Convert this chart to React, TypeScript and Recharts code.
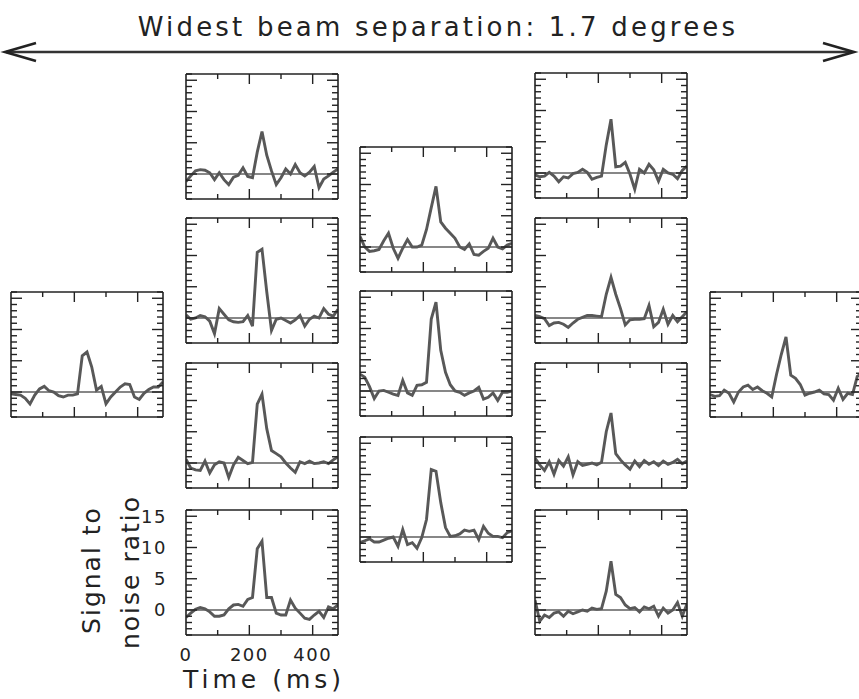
import React from "react";
import { LineChart, Line, XAxis, YAxis, ReferenceLine } from "recharts";

// sample times (ms)
const TIMES = [
  0, 15, 30, 45, 60, 75, 90, 105, 120, 135, 150, 165, 180, 195, 210, 225, 240,
  255, 270, 285, 300, 315, 330, 345, 360, 375, 390, 405, 420, 435, 450, 465, 480,
];

// signal to noise per beam
const BEAM_W = [-0.3, -0.4, -0.5, -1.0, -1.9, -0.5, 0.5, 0.9, 0.2, 0.0, -0.6, -0.8, -0.5, -0.5, -0.3, 5.8, 6.4, 4.0, 0.3, 0.9, -1.9, -0.8, 0.0, 0.8, 1.3, 1.2, -0.8, -1.2, -0.2, 0.4, 0.8, 0.8, 1.6];
const BEAM_NW1 = [-1.2, -0.3, 0.5, 0.7, 0.6, 0.2, -0.9, 0.2, -0.9, -1.7, -0.5, -0.2, 1.0, -0.4, -0.6, 3.5, 6.8, 3.0, 0.5, -1.7, -0.6, 0.8, 0.0, 1.5, 0.2, -0.3, 0.3, 1.2, -2.2, -0.8, -0.3, 0.3, 0.8];
const BEAM_NW2 = [0.5, -0.2, 0.0, 0.4, 0.2, -0.5, -2.5, 1.5, 0.6, -0.3, -0.6, -0.7, -0.6, 0.4, -1.3, 10.5, 11.0, 4.2, -2.0, -0.2, 0.0, -0.4, -0.8, -0.3, 0.4, -1.3, -0.2, 0.3, 0.0, 1.5, 0.6, 0.3, 1.4];
const BEAM_SW1 = [0.6, -0.8, -1.1, -1.2, 0.3, -1.6, -0.3, 0.2, 0.0, -2.3, -0.3, 0.9, 0.4, -0.1, 0.1, 9.4, 11.0, 5.5, 2.0, 1.5, 1.0, 0.0, -0.8, -1.5, 0.2, -0.1, 0.3, -0.1, 0.0, 0.2, -0.1, 0.5, 1.0];
const BEAM_SW2 = [-1.2, -0.5, 0.1, 0.4, 0.2, -0.3, -1.0, -1.0, -0.8, 0.2, 0.8, 0.9, 0.6, 1.7, 2.0, 9.8, 11.0, 2.0, 2.0, -0.5, -0.8, -0.8, 1.6, 0.3, -0.5, -1.3, -1.5, -0.8, -0.2, -1.2, 0.5, 0.2, 0.8];
const BEAM_N = [1.7, 0.0, -0.7, -0.6, -0.4, 1.0, 2.2, -0.2, -1.8, -0.2, 1.2, 0.0, 0.0, 0.3, 2.8, 6.3, 9.7, 4.0, 3.0, 2.2, 1.4, 0.0, -0.4, 0.5, -1.2, -1.3, -0.7, -0.2, 1.4, 0.0, -0.3, 0.3, 0.6];
const BEAM_C = [2.7, 2.2, 0.7, -1.2, 0.0, 0.1, -0.2, -0.5, -0.7, 1.7, -0.3, -0.7, 0.9, 1.0, 1.4, 11.5, 14.2, 6.5, 3.0, 1.0, 0.0, -0.2, -0.7, -0.3, 0.0, 0.6, -1.3, -1.0, -0.3, -1.5, -0.2, -0.2, 0.0];
const BEAM_S = [-0.9, -0.6, -0.3, -0.8, -0.8, -0.5, -0.2, 0.0, -1.5, 1.2, -1.2, -0.9, -1.8, -0.1, 2.8, 10.8, 10.5, 5.5, 1.5, 0.1, 0.2, 0.5, 1.1, 0.9, 1.1, -0.4, 1.7, 0.6, 0.1, 0.1, -0.1, 0.7, 1.0];
const BEAM_NE1 = [-0.3, -0.6, -0.5, 0.1, -0.5, -1.4, -0.6, -0.8, -0.1, 0.1, 0.6, 0.1, -1.0, -0.7, -0.5, 4.5, 8.6, 1.0, 1.1, 1.7, -0.2, -2.6, 0.6, 0.0, 1.4, 0.5, -1.3, 0.6, 0.0, -0.2, -0.9, 0.4, 1.1];
const BEAM_NE2 = [0.4, 0.2, -0.1, -1.2, -0.8, -0.7, -1.0, -1.5, -0.8, -0.2, 0.1, 0.4, 0.4, 0.3, 0.2, 3.8, 6.5, 3.8, 1.5, -1.1, -0.3, -0.2, -0.2, -0.1, 2.0, -1.4, -0.7, 1.4, -1.0, 0.4, -0.6, 0.2, 1.0];
const BEAM_SE1 = [0.8, -0.3, -1.2, 0.2, -1.8, 0.4, -0.5, 1.0, -1.9, 0.2, -0.4, -0.2, 0.0, -0.3, 0.1, 5.0, 8.0, 1.5, 0.5, -0.3, -1.0, 0.3, -0.6, 0.4, -0.2, 0.2, -0.4, 0.3, -0.2, 0.1, 0.6, -0.1, 0.3];
const BEAM_SE2 = [1.6, -1.8, -0.8, -1.2, -0.5, -0.3, -1.0, -0.2, -0.6, -0.3, 0.0, -0.2, 0.3, 0.1, 0.2, 3.0, 7.8, 2.5, 2.0, 0.8, 0.2, 0.4, -0.3, 0.5, 0.2, 0.6, -1.0, 0.3, -0.5, 0.0, 1.2, -1.0, 1.0];
const BEAM_E = [-0.4, -0.7, -0.6, 0.3, -0.2, -1.6, 0.0, 0.8, 1.1, 0.4, 0.8, 0.2, -0.2, -0.8, 2.8, 6.0, 8.8, 2.7, 2.2, 1.2, -0.5, -0.2, 0.0, 0.3, -0.3, -0.4, -1.3, 0.6, -1.2, -0.2, -0.4, 2.5, 3.0];

const Y_TICKS = [-4, -3, -2, -1, 0, 1, 2, 3, 4, 5, 6, 7, 8, 9, 10, 11, 12, 13, 14, 15, 16];
const X_TICKS = [0, 100, 200, 300, 400];

const FONT = "'DejaVu Sans', sans-serif";
const INK = "#222";
const PW = 152;
const PH = 125;

const PANELS = [
  { left: 11, top: 292, values: BEAM_W },
  { left: 186, top: 74, values: BEAM_NW1 },
  { left: 186, top: 218, values: BEAM_NW2 },
  { left: 186, top: 363, values: BEAM_SW1 },
  { left: 186, top: 510, values: BEAM_SW2, labelled: true },
  { left: 360, top: 147, values: BEAM_N },
  { left: 360, top: 291, values: BEAM_C },
  { left: 360, top: 437, values: BEAM_S },
  { left: 535, top: 73, values: BEAM_NE1 },
  { left: 535, top: 218, values: BEAM_NE2 },
  { left: 535, top: 363, values: BEAM_SE1 },
  { left: 535, top: 510, values: BEAM_SE2 },
  { left: 710, top: 292, values: BEAM_E },
];

const labelStyle = { fontFamily: FONT, fontSize: 18, fill: INK, letterSpacing: 1.5 };

function yTick(side: "left" | "right", labelled: boolean) {
  return (p: any) => {
    const v = p.payload.value;
    const major = v % 5 === 0;
    const len = major ? 11 : 6;
    const dir = side === "left" ? 1 : -1;
    return (
      <g>
        <line x1={p.x} x2={p.x + dir * len} y1={p.y} y2={p.y} stroke={INK} strokeWidth={1.4} />
        {labelled && side === "left" && major ? (
          <text x={p.x - 19} y={p.y} dy="0.36em" textAnchor="end" style={labelStyle}>
            {v}
          </text>
        ) : null}
      </g>
    );
  };
}

// bottom axis ticks; the mirrored ticks on the top edge are drawn here too
function xTick(labelled: boolean) {
  return (p: any) => {
    const v = p.payload.value;
    const major = v % 200 === 0;
    const len = major ? 10 : 5;
    const top = p.y - PH;
    return (
      <g>
        {v > 0 ? <line x1={p.x} x2={p.x} y1={p.y} y2={p.y - len} stroke={INK} strokeWidth={1.4} /> : null}
        {v > 0 ? <line x1={p.x} x2={p.x} y1={top} y2={top + len} stroke={INK} strokeWidth={1.4} /> : null}
        {labelled && major ? (
          <text x={p.x} y={p.y + 12} dy="0.75em" textAnchor="middle" style={labelStyle}>
            {v}
          </text>
        ) : null}
      </g>
    );
  };
}

function Panel({ left, top, values, labelled = false }: { left: number; top: number; values: number[]; labelled?: boolean }) {
  const data = TIMES.map((t, i) => ({ t, v: values[i] }));
  const m = { top: 2, right: 2, bottom: labelled ? 40 : 2, left: labelled ? 60 : 2 };
  const border = { stroke: INK, strokeWidth: 1.6 };
  return (
    <div style={{ position: "absolute", left: left - m.left - 1, top: top - m.top - 1 }}>
      <LineChart width={PW + m.left + m.right + 2} height={PH + m.top + m.bottom + 2} data={data} margin={m}>
        <XAxis xAxisId="b" dataKey="t" type="number" domain={[0, 480]} allowDataOverflow ticks={X_TICKS} interval={0}
          height={1} tickSize={0} tickMargin={0} tickLine={false} axisLine={border} tick={xTick(labelled)} />
        <XAxis xAxisId="t" dataKey="t" orientation="top" type="number" domain={[0, 480]} allowDataOverflow ticks={X_TICKS} interval={0}
          height={1} tickSize={0} tickMargin={0} tickLine={false} axisLine={border} tick={() => <g />} />
        <YAxis yAxisId="l" type="number" domain={[-4, 16]} allowDataOverflow ticks={Y_TICKS} interval={0}
          width={1} tickSize={0} tickMargin={0} tickLine={false} axisLine={border} tick={yTick("left", labelled)} />
        <YAxis yAxisId="r" orientation="right" type="number" domain={[-4, 16]} allowDataOverflow ticks={Y_TICKS} interval={0}
          width={1} tickSize={0} tickMargin={0} tickLine={false} axisLine={border} tick={yTick("right", false)} />
        <ReferenceLine xAxisId="b" yAxisId="l" y={0} stroke="#111" strokeWidth={1.2} />
        <Line xAxisId="b" yAxisId="l" dataKey="v" type="linear" stroke="#585858" strokeWidth={2.9}
          dot={false} isAnimationActive={false} />
      </LineChart>
    </div>
  );
}

export default function App() {
  const txt = { fontFamily: FONT, fill: INK };
  return (
    <div style={{ position: "fixed", left: 0, top: 0, width: 859, height: 699, overflow: "hidden", background: "#fff" }}>
      <svg width={859} height={699} style={{ position: "absolute", left: 0, top: 0 }}>
        <text x={438} y={36} textAnchor="middle" style={{ ...txt, fontSize: 26, letterSpacing: 3.2 }}>
          Widest beam separation: 1.7 degrees
        </text>
        <line x1={6} y1={52} x2={852} y2={52} stroke="#333" strokeWidth={2.4} />
        <polyline points="36,43 5,52 36,61" fill="none" stroke="#222" strokeWidth={2.6} />
        <polyline points="823,43 854,52 823,61" fill="none" stroke="#222" strokeWidth={2.6} />
        <text transform="translate(100,570) rotate(-90)" textAnchor="middle" style={{ ...txt, fontSize: 25, letterSpacing: 2 }}>
          Signal to
        </text>
        <text transform="translate(139,572) rotate(-90)" textAnchor="middle" style={{ ...txt, fontSize: 25, letterSpacing: 2 }}>
          noise ratio
        </text>
        <text x={183} y={688} style={{ ...txt, fontSize: 25, letterSpacing: 4 }}>
          Time (ms)
        </text>
      </svg>
      {PANELS.map((p, i) => (
        <Panel key={i} left={p.left} top={p.top} values={p.values} labelled={p.labelled} />
      ))}
    </div>
  );
}
